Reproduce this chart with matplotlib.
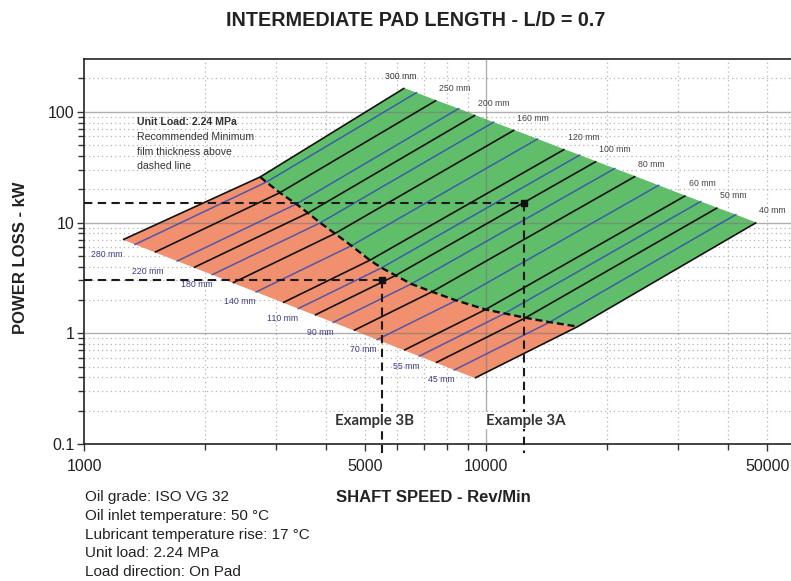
import matplotlib
matplotlib.use("Agg")
import matplotlib.pyplot as plt
from matplotlib.ticker import FixedLocator, NullFormatter

# Shaft diameters (mm); every curve runs from its lower speed limit, through the
# minimum-film-thickness (dashed) line, up to its upper speed limit.
diameters = [300, 280, 250, 220, 200, 180, 160, 140, 120, 110, 100, 90, 80, 70, 60, 55, 50, 45, 40]
speed_start = [1250, 1339, 1500, 1705, 1875, 2083, 2344, 2679, 3125, 3409, 3750, 4167, 4688,
               5357, 6250, 6818, 7500, 8333, 9375]
power_start = [7.00, 6.34, 5.39, 4.49, 3.92, 3.38, 2.85, 2.36, 1.89, 1.67, 1.458, 1.254, 1.060,
               0.876, 0.703, 0.621, 0.542, 0.466, 0.394]
speed_film = [2742, 2841, 3069, 3373, 3606, 3869, 4207, 4624, 5140, 5495, 5957, 6516, 7338,
              8424, 9968, 11117, 12531, 14390, 16904]
power_film = [25.8, 23.2, 18.6, 14.7, 12.2, 9.95, 7.96, 6.18, 4.57, 3.90, 3.33, 2.79, 2.37,
              1.98, 1.64, 1.51, 1.38, 1.26, 1.15]
speed_end = [6267, 6714, 7520, 8548, 9400, 10447, 11753, 13431, 15670, 17096, 18800, 20895, 23508,
             26870, 31340, 34190, 37610, 41790, 47000]
power_end = [164, 149, 127, 107, 93.4, 80.7, 68.5, 56.9, 45.9, 40.7, 35.7, 30.8, 26.2,
             21.7, 17.5, 15.5, 13.6, 11.8, 10.0]

# Worked examples
example_names = ["Example 3B", "Example 3A"]
example_speed = [5500, 12400]
example_power = [3.0, 15.0]

x_major = [1000, 5000, 10000, 50000]
x_major_labels = ["1000", "5000", "10000", "50000"]
y_major = [0.1, 1, 10, 100]
y_major_labels = ["0.1", "1", "10", "100"]

notes = ["Oil grade: ISO VG 32",
         "Oil inlet temperature: 50 \u00b0C",
         "Lubricant temperature rise: 17 \u00b0C",
         "Unit load: 2.24 MPa",
         "Load direction: On Pad"]
info_title = "Unit Load: 2.24 MPa"
info_lines = ["Recommended Minimum", "film thickness above", "dashed line"]

ARIAL = ["Liberation Sans", "DejaVu Sans"]

ORANGE = "#f0906e"
GREEN = "#60be6a"
BLUE = "#2f46b4"

W, H = 791, 581
fig = plt.figure(figsize=(W / 100, H / 100), dpi=100)
ax = fig.add_axes([84 / W, 137 / H, (799 - 84) / W, 385 / H])
ax.set_xscale("log")
ax.set_yscale("log")
ax.set_xlim(1000, 60000)
ax.set_ylim(0.1, 300)

# grid: dotted minor lines under the chart, solid decade lines over it
x_minor = [m * d for d in (1000, 10000) for m in range(2, 10) if m * d < 60000]
y_minor = [m * d for d in (0.1, 1, 10, 100) for m in range(2, 10) if m * d < 300]
for v in x_minor:
    ax.axvline(v, color="#b4b4b4", lw=0.9, ls=(0, (1, 2.5)), zorder=0.5)
for v in y_minor:
    ax.axhline(v, color="#b4b4b4", lw=0.9, ls=(0, (1, 2.5)), zorder=0.5)
ax.axvline(10000, color="#7a7a7a", lw=1.0, alpha=0.6, zorder=3)
for v in (1, 10, 100):
    ax.axhline(v, color="#7a7a7a", lw=1.0, alpha=0.6, zorder=3)

# regions: below (orange) and above (green) the minimum film thickness line
ax.fill(speed_start + speed_film[::-1], power_start + power_film[::-1],
        color=ORANGE, lw=0, zorder=1)
ax.fill(speed_film + speed_end[::-1], power_film + power_end[::-1],
        color=GREEN, lw=0, zorder=1)

# diameter curves, alternating black / blue
for i, d in enumerate(diameters):
    xs = [speed_start[i], speed_film[i], speed_end[i]]
    ys = [power_start[i], power_film[i], power_end[i]]
    if i % 2 == 0:
        ax.plot(xs, ys, color="#111111", lw=1.2, zorder=4, solid_capstyle="butt")
        if d == 300:
            ax.annotate(f"{d} mm", (speed_end[i], power_end[i]), xytext=(-4, 12),
                        textcoords="offset pixels", ha="center", va="center",
                        fontsize=6.3, family=ARIAL, color="#333333", zorder=6)
        else:
            ax.annotate(f"{d} mm", (speed_end[i], power_end[i]), xytext=(3, 12),
                        textcoords="offset pixels", ha="left", va="center",
                        fontsize=6.3, family=ARIAL, color="#444444", zorder=6)
    else:
        ax.plot(xs, ys, color=BLUE, lw=1.1, alpha=0.8, zorder=4)
        dx = {280: -12, 220: -14}.get(d, 0)
        ax.annotate(f"{d} mm", (speed_start[i], power_start[i]), xytext=(dx, -10),
                    textcoords="offset pixels", ha="right", va="center",
                    fontsize=6.3, family=ARIAL, color="#3c3c8e", zorder=6)

# minimum film thickness line
ax.plot(speed_film, power_film, color="#111111", lw=1.7, ls=(0, (3, 1.6)), zorder=5)

# worked examples
for k, name in enumerate(example_names):
    sx, py = example_speed[k], example_power[k]
    ax.plot([1000, sx], [py, py], color="#1a1a1a", lw=1.5, ls=(0, (4, 2.6)), zorder=5)
    ax.plot([sx, sx], [py, 0.083], color="#1a1a1a", lw=1.5, ls=(0, (4, 2.6)),
            zorder=5, clip_on=False)
    ax.plot([sx], [py], marker="s", ms=4.5, color="#111111", zorder=6)
    ax.annotate(name, (sx, 0.163), xytext=(-7 if k == 0 else 2, 0), textcoords="offset pixels",
                ha="center", va="center", fontsize=10.8, fontweight="bold",
                family=["Lato", "DejaVu Sans"], color="#333333", zorder=7,
                bbox=dict(facecolor="white", edgecolor="none", pad=1.0))

# axes styling
ax.xaxis.set_major_locator(FixedLocator(x_major))
ax.xaxis.set_minor_locator(FixedLocator([v for v in x_minor if v not in x_major]))
ax.yaxis.set_major_locator(FixedLocator(y_major))
ax.yaxis.set_minor_locator(FixedLocator(y_minor))
ax.set_xticklabels(x_major_labels)
ax.set_yticklabels(y_major_labels)
ax.xaxis.set_minor_formatter(NullFormatter())
ax.yaxis.set_minor_formatter(NullFormatter())
ax.tick_params(which="both", direction="out", color="#333333", width=1.0)
ax.tick_params(which="major", length=5, labelsize=11.5)
ax.tick_params(axis="x", which="major", pad=6)
ax.tick_params(axis="y", which="major", pad=2)
ax.tick_params(which="minor", length=4)
for lab in ax.get_xticklabels() + ax.get_yticklabels():
    lab.set_family(ARIAL)
    lab.set_color("#222222")
for s in ax.spines.values():
    s.set_color("#222222")
    s.set_linewidth(1.2)

# explanatory note inside the chart
fig.text(137 / W, 1 - 122 / H, info_title, fontsize=7.6, fontweight="bold", family=ARIAL,
         color="#333333", va="center", ha="left")
for j, line in enumerate(info_lines):
    fig.text(137 / W, 1 - (137 + 14.6 * j) / H, line, fontsize=7.6, family=ARIAL,
             color="#333333", va="center", ha="left")

# titles
fig.text(416 / W, 1 - 21 / H, "INTERMEDIATE PAD LENGTH - L/D = 0.7", fontsize=14.2,
         fontweight="bold", family=ARIAL, color="#222222", ha="center", va="center")
fig.text(21 / W, 1 - 258 / H, "POWER LOSS - kW", fontsize=12, fontweight="bold",
         family=ARIAL, color="#222222", ha="center", va="center", rotation=90)
fig.text(433 / W, 1 - 497 / H, "SHAFT SPEED - Rev/Min", fontsize=12, fontweight="bold",
         family=ARIAL, color="#222222", ha="center", va="center")

for j, line in enumerate(notes):
    fig.text(85 / W, 1 - (497 + 18.8 * j) / H, line, fontsize=11, family=ARIAL,
             color="#222222", ha="left", va="center")

fig.savefig("out.png", dpi=100)
